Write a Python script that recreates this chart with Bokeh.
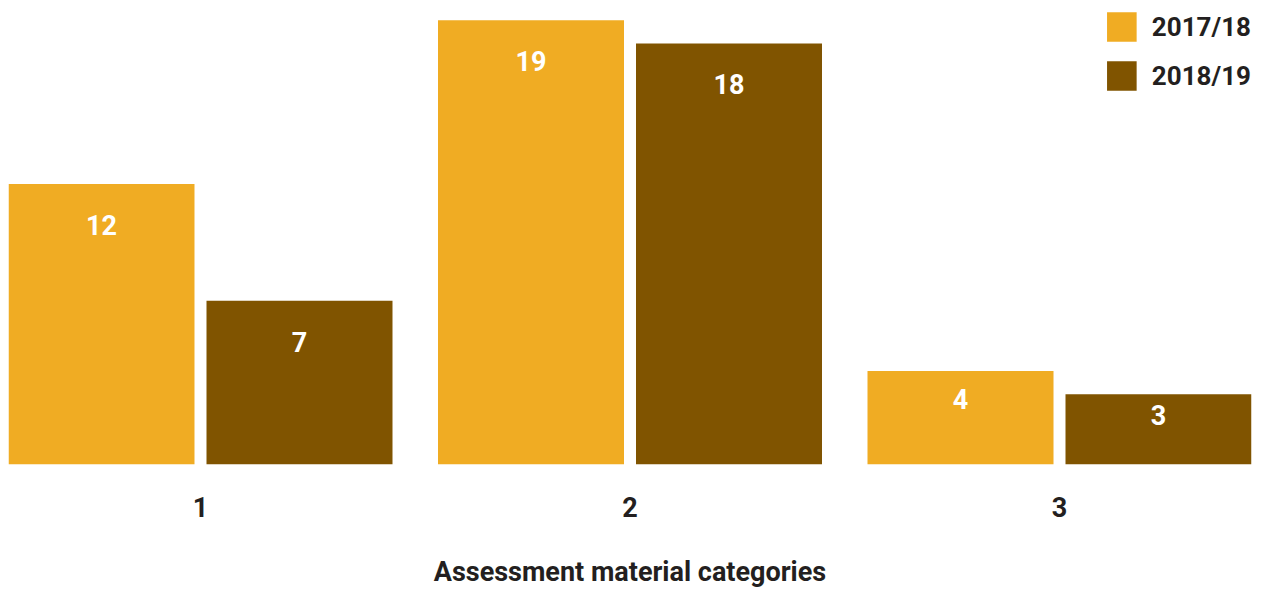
from bokeh.plotting import figure
from bokeh.models import FactorRange, Range1d, ColumnDataSource, Legend, LegendItem
from bokeh.transform import dodge
from bokeh.core.properties import value
from bokeh.embed import file_html
from bokeh.resources import INLINE

categories = ["1", "2", "3"]
series_names = ["2017/18", "2018/19"]
values_1718 = [12, 19, 4]
values_1819 = [7, 18, 3]

ORANGE = "#F0AC23"
BROWN = "#805400"
DARK = "#231F20"
FONT = "Roboto"

Y_MAX = 19.5
TOP = 8
FRAME_H = 457
BOTTOM = 125
PLOT_H = TOP + FRAME_H + BOTTOM
PX_PER_UNIT = FRAME_H / Y_MAX


def label_y(vals):
    out = []
    for v in vals:
        off = min(41.0 / PX_PER_UNIT, 0.3 * v)
        out.append(v - off)
    return out


src_a = ColumnDataSource(dict(cat=categories, val=values_1718,
                              ly=label_y(values_1718),
                              txt=[str(v) for v in values_1718]))
src_b = ColumnDataSource(dict(cat=categories, val=values_1819,
                              ly=label_y(values_1819),
                              txt=[str(v) for v in values_1819]))

p = figure(x_range=FactorRange(factors=categories, factor_padding=0.1185, range_padding=0),
           y_range=Range1d(0, Y_MAX),
           width=1254, height=PLOT_H, output_backend="svg", toolbar_location=None,
           y_axis_location=None,
           min_border_left=8, min_border_right=3, min_border_top=TOP,
           min_border_bottom=BOTTOM)

BW = 186 / 384
OFF = 99 / 384

r_a = p.vbar(x=dodge("cat", -OFF, range=p.x_range), top="val", width=BW, bottom=0,
             source=src_a, fill_color=ORANGE, line_color=None)
r_b = p.vbar(x=dodge("cat", OFF, range=p.x_range), top="val", width=BW, bottom=0,
             source=src_b, fill_color=BROWN, line_color=None)

for src, o in ((src_a, -OFF), (src_b, OFF)):
    p.text(x=dodge("cat", o, range=p.x_range), y="ly", text="txt", source=src,
           text_align="center", text_baseline="middle", text_color="white",
           text_font=value(FONT), text_font_style="bold", text_font_size="27px")

legend = Legend(items=[LegendItem(label=series_names[0], renderers=[r_a]),
                       LegendItem(label=series_names[1], renderers=[r_b])],
                location="top_right", margin=0, padding=0,
                glyph_width=37, glyph_height=37, label_standoff=12, spacing=12,
                label_text_font=FONT, label_text_font_style="bold",
                label_text_font_size="26px", label_text_color=DARK,
                background_fill_alpha=0, border_line_color=None)
p.add_layout(legend)

p.xgrid.grid_line_color = None
p.ygrid.grid_line_color = None
p.outline_line_color = None

ax = p.xaxis[0]
ax.axis_line_color = None
ax.major_tick_line_color = None
ax.minor_tick_line_color = None
ax.major_tick_out = 0
ax.major_label_standoff = 32
ax.major_label_text_font = FONT
ax.major_label_text_font_style = "bold"
ax.major_label_text_font_size = "27px"
ax.major_label_text_color = DARK
ax.axis_label = "Assessment material categories"
ax.axis_label_standoff = 36
ax.axis_label_text_font = FONT
ax.axis_label_text_font_style = "bold"
ax.axis_label_text_font_size = "27px"
ax.axis_label_text_color = DARK

open("out.html", "w").write(file_html(p, INLINE))
